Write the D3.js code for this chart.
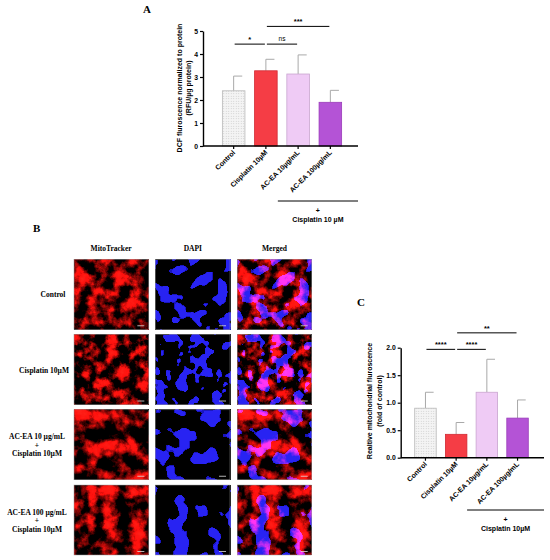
<!DOCTYPE html>
<html>
<head>
<meta charset="utf-8">
<script src="https://cdn.jsdelivr.net/npm/d3@7"></script>
<style>
  body { margin: 0; background: #fff; }
  svg { display: block; }
</style>
</head>
<body>
<svg width="550" height="560"></svg>
<script>
// ---- data ----
const groups = ["Control", "Cisplatin 10µM", "AC-EA 10µg/mL", "AC-EA 100µg/mL"];
const barColors = ["url(#dots)", "#f53d45", "#efcbf5", "#b453d6"];
const barStrokes = ["#b8b8b8", "#d02a33", "#c9a5cf", "#9a3cba"];

// panel A : DCF fluorescence
const meansA = [2.40, 3.27, 3.13, 1.90];
const sdA = [0.64, 0.50, 0.83, 0.52];
const ticksA = [0, 1, 2, 3, 4, 5];
const sigA = [
  { from: 0, to: 1, label: "*", y: 4.43 },
  { from: 1, to: 2, label: "ns", y: 4.43 },
  { from: 1, to: 3, label: "***", y: 5.2 }
];

// panel C : mitochondrial fluorescence
const meansC = [0.90, 0.425, 1.19, 0.72];
const sdC = [0.29, 0.215, 0.60, 0.33];
const ticksC = [0, 0.5, 1.0, 1.5, 2.0];
const sigC = [
  { from: 0, to: 1, label: "****", y: 1.97 },
  { from: 1, to: 2, label: "****", y: 1.97 },
  { from: 1, to: 3, label: "**", y: 2.27 }
];

// panel B : image grid
const channels = ["MitoTracker", "DAPI", "Merged"];
const rowLabels = [
  ["Control"],
  ["Cisplatin 10µM"],
  ["AC-EA 10 µg/mL", "+", "Cisplatin 10µM"],
  ["AC-EA 100 µg/mL", "+", "Cisplatin 10µM"]
];

const svg = d3.select("svg");
const sans = "'Liberation Sans', Arial, sans-serif";
const serif = "'Liberation Serif', 'Times New Roman', serif";

// dotted fill for the control bar
const defs = svg.append("defs");
const pat = defs.append("pattern")
    .attr("id", "dots")
    .attr("width", 2.5).attr("height", 2.5)
    .attr("patternUnits", "userSpaceOnUse");
pat.append("rect").attr("width", 2.5).attr("height", 2.5).attr("fill", "#f4f4f4");
pat.append("circle").attr("cx", 1.25).attr("cy", 1.25).attr("r", 0.5).attr("fill", "#bdbdbd");

// ---- bar chart helper ----
function barChart(opt) {
    const g = svg.append("g");
    const x = d3.scaleBand().domain(groups).range(opt.xRange).padding(0.3);
    const y = d3.scaleLinear().domain(opt.yDomain).range(opt.yRange);

    // error bars (upper only)
    g.selectAll(".err")
        .data(groups)
        .join("g")
        .each(function (d, i) {
            const cx = x(d) + x.bandwidth() / 2;
            const e = d3.select(this);
            e.append("line")
                .attr("x1", cx).attr("x2", cx)
                .attr("y1", y(opt.means[i])).attr("y2", y(opt.means[i] + opt.sd[i]))
                .attr("stroke", "#a9a9a9").attr("stroke-width", 1);
            e.append("line")
                .attr("x1", cx).attr("x2", cx + x.bandwidth() * 0.38)
                .attr("y1", y(opt.means[i] + opt.sd[i])).attr("y2", y(opt.means[i] + opt.sd[i]))
                .attr("stroke", "#a9a9a9").attr("stroke-width", 1);
        });

    g.selectAll(".bar")
        .data(groups)
        .join("rect")
        .attr("x", d => x(d))
        .attr("width", x.bandwidth())
        .attr("y", (d, i) => y(opt.means[i]))
        .attr("height", (d, i) => y(0) - y(opt.means[i]))
        .attr("fill", (d, i) => barColors[i])
        .attr("stroke", (d, i) => barStrokes[i])
        .attr("stroke-width", 0.8);

    // y axis
    const ya = g.append("g")
        .attr("transform", `translate(${opt.axisX},0)`)
        .call(d3.axisLeft(y).tickValues(opt.ticks).tickFormat(d3.format(opt.fmt))
            .tickSize(3).tickSizeOuter(0).tickPadding(2));
    ya.select(".domain").attr("stroke-width", 1.4);
    ya.selectAll(".tick line").attr("stroke-width", 1.2);
    ya.selectAll("text").attr("font-family", sans).attr("font-size", 6.8).attr("font-weight", "bold");

    // x axis
    g.append("line")
        .attr("x1", opt.axisX).attr("x2", opt.axisEnd)
        .attr("y1", y(0)).attr("y2", y(0))
        .attr("stroke", "#000").attr("stroke-width", 1.4);
    g.selectAll(".xtick")
        .data(groups)
        .join("line")
        .attr("x1", d => x(d) + x.bandwidth() / 2)
        .attr("x2", d => x(d) + x.bandwidth() / 2)
        .attr("y1", y(0)).attr("y2", y(0) + 3)
        .attr("stroke", "#000").attr("stroke-width", 1.2);
    g.selectAll(".xlab")
        .data(groups)
        .join("text")
        .attr("transform", d => `translate(${x(d) + x.bandwidth() / 2 + 2},${y(0) + 7}) rotate(-45)`)
        .attr("text-anchor", "end")
        .attr("font-family", sans).attr("font-size", 7).attr("font-weight", "bold")
        .text(d => d);

    // significance bars
    g.selectAll(".sig")
        .data(opt.sig)
        .join("g")
        .each(function (s) {
            const x1 = x(groups[s.from]) + x.bandwidth() / 2 + 1;
            const x2 = x(groups[s.to]) + x.bandwidth() / 2 - 1;
            const e = d3.select(this);
            e.append("line")
                .attr("x1", x1).attr("x2", x2)
                .attr("y1", y(s.y)).attr("y2", y(s.y))
                .attr("stroke", "#000").attr("stroke-width", 1);
            e.append("text")
                .attr("x", (x1 + x2) / 2)
                .attr("y", y(s.y) - (s.label === "ns" ? 3 : 2))
                .attr("text-anchor", "middle")
                .attr("font-family", sans).attr("font-size", s.label === "ns" ? 6.5 : 7.5)
                .attr("font-weight", s.label === "ns" ? "normal" : "bold")
                .text(s.label);
        });

    // y label
    const yl = g.append("text")
        .attr("transform", `translate(${opt.labelX},${opt.labelY}) rotate(-90)`)
        .attr("text-anchor", "middle")
        .attr("font-family", sans).attr("font-size", 7).attr("font-weight", "bold");
    opt.yLabel.forEach((t, i) => {
        yl.append("tspan").attr("x", 0).attr("dy", i === 0 ? 0 : 9.5).text(t);
    });

    // "+ Cisplatin" bracket under the AC-EA bars
    const gy = opt.groupY;
    g.append("line")
        .attr("x1", x(groups[2]) - 9).attr("x2", opt.axisEnd)
        .attr("y1", gy).attr("y2", gy)
        .attr("stroke", "#000").attr("stroke-width", 1);
    const gc = (x(groups[2]) - 9 + opt.axisEnd) / 2;
    g.append("text")
        .attr("x", gc).attr("y", gy + 12)
        .attr("text-anchor", "middle")
        .attr("font-family", sans).attr("font-size", 7).attr("font-weight", "bold")
        .text("+");
    g.append("text")
        .attr("x", gc).attr("y", gy + 21)
        .attr("text-anchor", "middle")
        .attr("font-family", sans).attr("font-size", 7).attr("font-weight", "bold")
        .text(opt.groupLabel);

    g.append("text")
        .attr("x", opt.letter[0]).attr("y", opt.letter[1])
        .attr("font-family", serif).attr("font-size", 11).attr("font-weight", "bold")
        .text(opt.letterText);
}

barChart({
    means: meansA, sd: sdA, ticks: ticksA, sig: sigA, fmt: "d",
    xRange: [212.7, 351.3], yDomain: [0, 5], yRange: [146, 31],
    axisX: 203, axisEnd: 358,
    yLabel: ["DCF fluroscence normalized to protein", "(RFU/µg protein)"],
    labelX: 181.5, labelY: 88,
    groupY: 201, groupLabel: "Cisplatin 10 µM",
    letter: [143, 13], letterText: "A"
});

barChart({
    means: meansC, sd: sdC, ticks: ticksC, sig: sigC, fmt: ".1f",
    xRange: [405.5, 537.5], yDomain: [0, 2], yRange: [457.7, 347.7],
    axisX: 400.7, axisEnd: 544,
    yLabel: ["Realtive mitochondrial fluroscence", "(fold of control)"],
    labelX: 372, labelY: 401,
    groupY: 510, groupLabel: "Cisplatin 10µM",
    letter: [357, 306], letterText: "C"
});

// ---- panel B : image grid (procedural fluorescence textures) ----
const col = d3.scaleBand().domain(channels).range([74, 311.7]).paddingInner(0.09);
const row = d3.scaleBand().domain(d3.range(rowLabels.length)).range([259.3, 555]).paddingInner(0.07);

const mitoFreq = [0.075, 0.09, 0.065, 0.07];
const nucFreq = [0.065, 0.09, 0.055, 0.06];

function addTurb(f, freq, oct, seed, res) {
    f.append("feTurbulence").attr("type", "fractalNoise")
        .attr("baseFrequency", freq).attr("numOctaves", oct)
        .attr("seed", seed).attr("result", res + "n");
}
// nuclei: noise alpha -> mask, then hard step into blue
function addNuclei(f, i, res) {
    addTurb(f, nucFreq[i], 2, 40 + i, "d");
    f.append("feColorMatrix").attr("in", "dn").attr("type", "matrix")
        .attr("values", "0 0 0 12 -6.2  0 0 0 12 -6.2  0 0 0 12 -6.2  0 0 0 0 1")
        .attr("result", "dm");
    const ct = f.append("feComponentTransfer").attr("in", "dm").attr("result", res);
    ct.append("feFuncR").attr("type", "discrete").attr("tableValues", "0 0 0.1 0.16");
    ct.append("feFuncG").attr("type", "discrete").attr("tableValues", "0 0 0.08 0.14");
    ct.append("feFuncB").attr("type", "discrete").attr("tableValues", "0 0 0.75 0.95");
}
rowLabels.forEach((r, i) => {
    const mk = id => defs.append("filter").attr("id", id)
        .attr("filterUnits", "objectBoundingBox")
        .attr("x", 0).attr("y", 0).attr("width", 1).attr("height", 1)
        .attr("color-interpolation-filters", "sRGB");
    const redM = "3.6 0 0 0 -1.45  0.3 0 0 0 -0.14  0.22 0 0 0 -0.1  0 0 0 0 1";

    const fm = mk("mito" + i);
    addTurb(fm, mitoFreq[i], 5, 3 + i, "m");
    fm.append("feColorMatrix").attr("in", "mn").attr("type", "matrix").attr("values", redM);

    const fd = mk("dapi" + i);
    addNuclei(fd, i, "dc");

    const fx = mk("merge" + i);
    addTurb(fx, mitoFreq[i], 5, 3 + i, "m");
    fx.append("feColorMatrix").attr("in", "mn").attr("type", "matrix").attr("values", redM).attr("result", "mc");
    addNuclei(fx, i, "dc");
    fx.append("feBlend").attr("in", "mc").attr("in2", "dc").attr("mode", "screen");
});

const gb = svg.append("g");
const filterIds = ["mito", "dapi", "merge"];
rowLabels.forEach((r, i) => {
    channels.forEach((c, j) => {
        const cell = gb.append("g").attr("transform", `translate(${col(c)},${row(i)})`);
        cell.append("rect")
            .attr("width", col.bandwidth()).attr("height", row.bandwidth())
            .attr("fill", "#000")
            .attr("filter", `url(#${filterIds[j]}${i})`);
        cell.append("rect")
            .attr("width", col.bandwidth()).attr("height", row.bandwidth())
            .attr("fill", "none").attr("stroke", "#999").attr("stroke-width", 0.5);
        cell.append("line")
            .attr("x1", col.bandwidth() - 11).attr("x2", col.bandwidth() - 4)
            .attr("y1", row.bandwidth() - 3.5).attr("y2", row.bandwidth() - 3.5)
            .attr("stroke", "#ddd").attr("stroke-width", 0.8);
    });
    const t = gb.append("text")
        .attr("x", 44)
        .attr("y", row(i) + row.bandwidth() / 2 + 3 - (r.length - 1) * 8.5 / 2)
        .attr("text-anchor", "middle")
        .attr("font-family", serif).attr("font-size", 7.5).attr("font-weight", "bold");
    r.forEach((line, k) => {
        t.append("tspan").attr("x", i === 0 ? 53 : (r.length > 1 ? 37 : 44)).attr("dy", k === 0 ? 0 : 8.5).text(line);
    });
});

gb.selectAll(".chan")
    .data(channels)
    .join("text")
    .attr("x", d => col(d) + col.bandwidth() / 2)
    .attr("y", 251)
    .attr("text-anchor", "middle")
    .attr("font-family", serif).attr("font-size", 7.5).attr("font-weight", "bold")
    .text(d => d);

gb.append("text")
    .attr("x", 33).attr("y", 232)
    .attr("font-family", serif).attr("font-size", 11).attr("font-weight", "bold")
    .text("B");
</script>
</body>
</html>
